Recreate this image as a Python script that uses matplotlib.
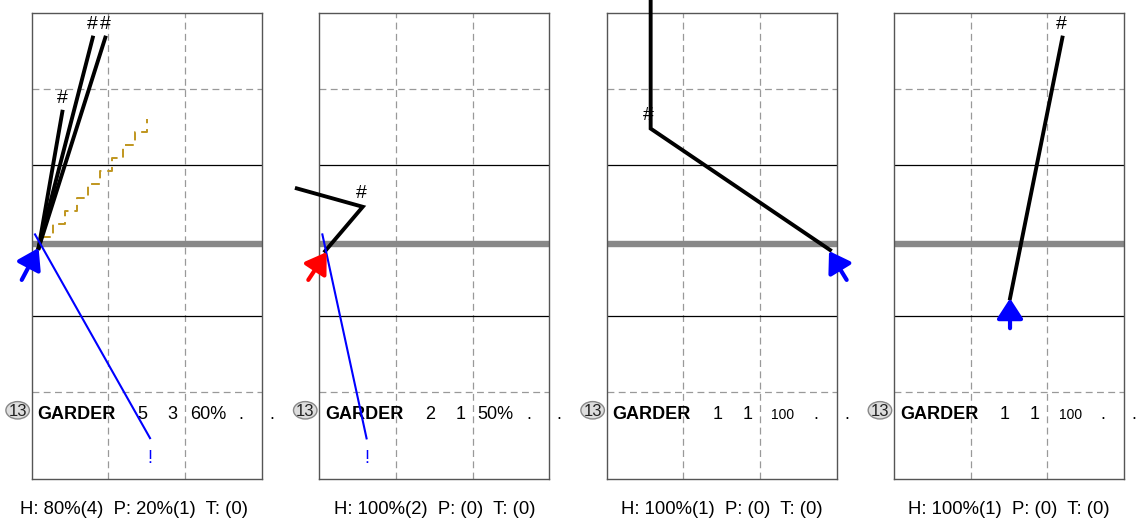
import matplotlib.pyplot as plt
from matplotlib.patches import Ellipse

plt.rcParams['font.family'] = ['Liberation Sans', 'DejaVu Sans']

# stat line under each court
player_no = "13"
player_name = "GARDER"
stat_cells = [["5", "3", "60%", ".", "."],
              ["2", "1", "50%", ".", "."],
              ["1", "1", "100", ".", "."],
              ["1", "1", "100", ".", "."]]
summary = ["H: 80%(4)  P: 20%(1)  T: (0)",
           "H: 100%(2)  P: (0)  T: (0)",
           "H: 100%(1)  P: (0)  T: (0)",
           "H: 100%(1)  P: (0)  T: (0)"]

# court metres: x across (0-9), y down from the far baseline (net ~ 9)
set_from = [(-0.39, 10.43), (-0.43, 10.43), (9.39, 10.43), (4.54, 12.32)]
set_to = [(0.27, 9.18), (0.29, 9.34), (8.70, 9.30), (4.54, 11.15)]
set_color = ["blue", "red", "blue", "blue"]

attack_paths = [
    [[(0.27, 9.18), (2.39, 0.95)], [(0.27, 9.18), (2.88, 0.95)], [(0.27, 9.18), (1.20, 3.85)]],
    [[(0.23, 9.30), (1.70, 7.57), (-0.88, 6.85)]],
    [[(8.74, 9.26), (1.72, 4.51), (1.72, -0.80)]],
    [[(4.54, 11.15), (6.59, 0.95)]],
]
attack_marks = [[(2.39, 0.95), (2.88, 0.95), (1.20, 3.85)],
                [(1.66, 7.57)],
                [(1.63, 4.51)],
                [(6.55, 0.95)]]

# thin blue lines ending with "!"
fault_paths = [[(0.13, 8.65), (4.63, 16.62)],
               [(0.12, 8.65), (1.85, 16.63)],
               [],
               []]

# dashed zigzag (tip) in the first chart
tip_paths = [[(0.39, 8.74), (4.50, 4.14)], [], [], []]

W, H = 1141, 518
panel_left = [31.7, 319.3, 606.7, 894.0]
cell_x = [4.34, 5.52, 6.89, 8.18, 9.39]

fig = plt.figure(figsize=(W / 100, H / 100), dpi=100)

for i in range(4):
    ax = fig.add_axes([panel_left[i] / W, 1 - 479.3 / H, 230 / W, 466 / H])
    ax.set_xlim(0, 9)
    ax.set_ylim(18.23, 0)
    ax.set_xticks([])
    ax.set_yticks([])
    for s in ax.spines.values():
        s.set_color('#555555')
        s.set_linewidth(1.0)

    # court lines
    for x in (3, 6):
        ax.axvline(x, color='#999999', lw=0.9, ls=(0, (5.5, 3.5)), zorder=1)
    for y in (2.96, 14.82):
        ax.axhline(y, color='#999999', lw=0.9, ls=(0, (5.5, 3.5)), zorder=1)
    for y in (5.93, 11.84):
        ax.axhline(y, color='black', lw=0.9, zorder=1)
    ax.axhline(9.01, color='#888888', lw=4.6, zorder=2)

    # tip drawn as a dashed staircase
    if tip_paths[i]:
        (x0, y0), (x1, y1) = tip_paths[i]
        n = 9
        dx, dy = (x1 - x0) / n, (y1 - y0) / n
        xs, ys = [x0], [y0]
        for k in range(n):
            xs += [x0 + (k + 1) * dx, x0 + (k + 1) * dx]
            ys += [y0 + k * dy, y0 + (k + 1) * dy]
        ax.plot(xs, ys, color='#c0961e', lw=1.4, ls=(0, (4.5, 3)), zorder=3)

    # faults
    if fault_paths[i]:
        fx, fy = zip(*fault_paths[i])
        ax.plot(fx, fy, color='blue', lw=1.5, zorder=5, clip_on=False)
        ax.text(fx[-1], fy[-1] + 0.98, "!", color='blue', fontsize=13,
                ha='center', va='baseline')

    # attacks
    for path in attack_paths[i]:
        px, py = zip(*path)
        ax.plot(px, py, color='black', lw=2.8, zorder=4, clip_on=False,
                solid_joinstyle='miter')
    for mx, my in attack_marks[i]:
        ax.text(mx, my - 0.35, "#", fontsize=14, ha='center', va='baseline')

    # set arrow
    ax.annotate('', xy=set_to[i], xytext=set_from[i], annotation_clip=False,
                arrowprops=dict(arrowstyle='-|>,head_length=0.85,head_width=0.55',
                                color=set_color[i], lw=3, mutation_scale=14.4,
                                shrinkA=0, shrinkB=0), zorder=6)

    # stat row
    ax.add_patch(Ellipse((-0.55, 15.53), 0.92, 0.68, fc='#dddddd', ec='#888888',
                         lw=1.0, clip_on=False, zorder=5))
    ax.text(-0.55, 15.77, player_no, fontsize=12, ha='center', va='baseline',
            color='#222222', zorder=6)
    ax.text(0.23, 15.88, player_name, fontsize=13, fontweight='bold',
            ha='left', va='baseline')
    for cx, val in zip(cell_x, stat_cells[i]):
        fs = 10 if val == "100" else 13
        ax.text(cx, 15.88, val, fontsize=fs, ha='center', va='baseline')

    ax.text(8.45, 19.59, summary[i], fontsize=13.3, ha='right', va='baseline')

fig.savefig('out.png', dpi=100)
